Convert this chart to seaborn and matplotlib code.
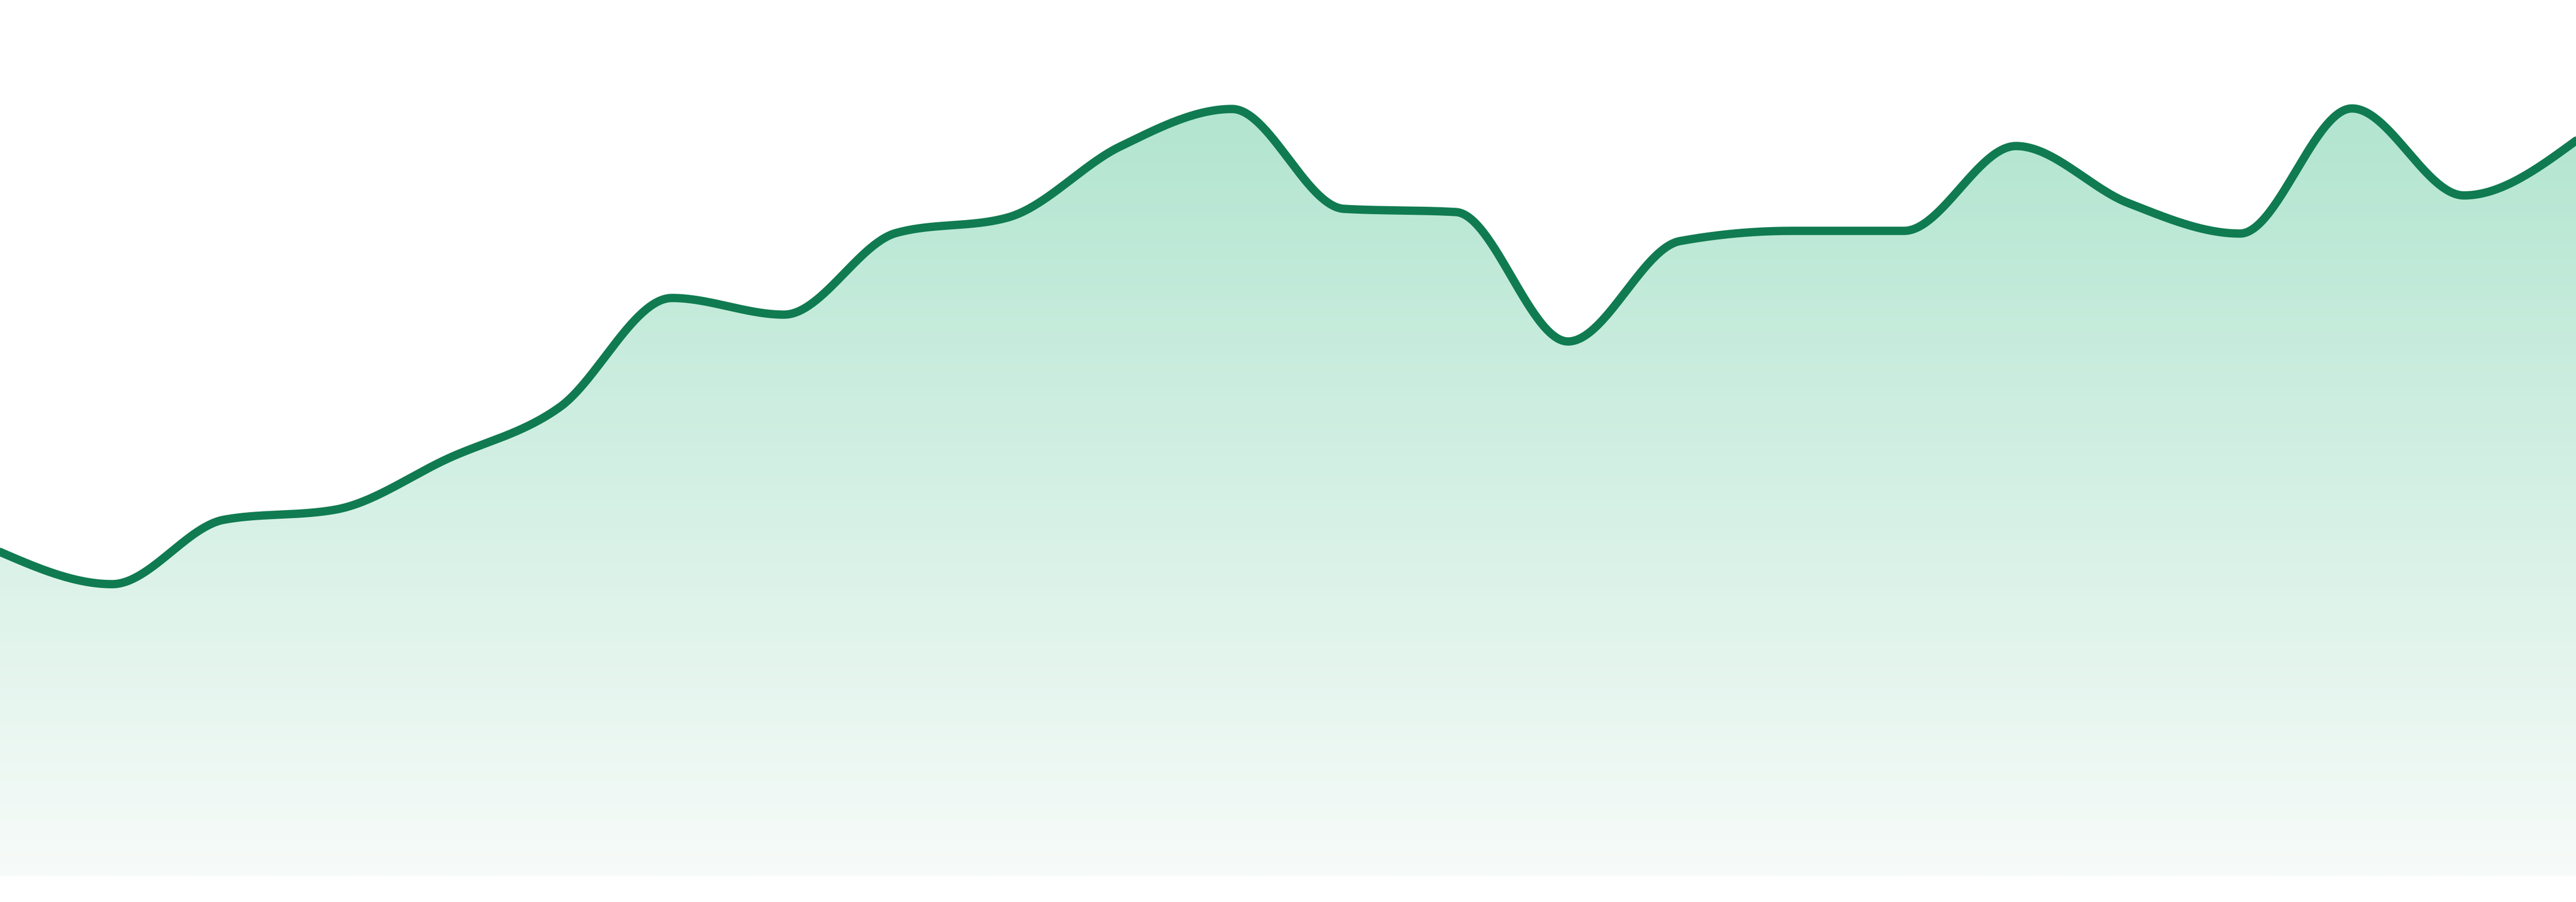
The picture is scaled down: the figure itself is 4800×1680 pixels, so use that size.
import numpy as np
import pandas as pd
import matplotlib
matplotlib.use("Agg")
import matplotlib.pyplot as plt
import seaborn as sns
from matplotlib.colors import LinearSegmentedColormap

# ---- data ----
periods = list(range(24))
values = [60.4, 54.4, 66.4, 68.3, 77.8, 87.4, 107.7, 104.6, 119.8, 122.7,
          135.9, 142.9, 124.3, 123.7, 99.6, 118.3, 120.2, 120.2, 136.0, 125.4,
          119.7, 143.0, 126.8, 137.0]

line_color = "#107b51"
grad_top = "#b2e5d0"
grad_bottom = "#f7fbf9"


def monotone_x(x, y, per_seg=60):
    """d3.curveMonotoneX style interpolation (Steffen)."""
    x = np.asarray(x, float)
    y = np.asarray(y, float)
    n = len(x)
    h = np.diff(x)
    s = np.diff(y) / h
    t = np.zeros(n)
    sgn = lambda v: -1.0 if v < 0 else 1.0
    for i in range(1, n - 1):
        h0, h1, s0, s1 = h[i - 1], h[i], s[i - 1], s[i]
        p = (s0 * h1 + s1 * h0) / (h0 + h1)
        t[i] = (sgn(s0) + sgn(s1)) * min(abs(s0), abs(s1), 0.5 * abs(p))
    t[0] = (3 * s[0] - t[1]) / 2
    t[-1] = (3 * s[-1] - t[-2]) / 2
    xs, ys = [], []
    for i in range(n - 1):
        u = np.linspace(0, 1, per_seg, endpoint=(i == n - 2))
        dx = h[i]
        h00 = 2 * u**3 - 3 * u**2 + 1
        h10 = u**3 - 2 * u**2 + u
        h01 = -2 * u**3 + 3 * u**2
        h11 = u**3 - u**2
        xs.append(x[i] + u * dx)
        ys.append(h00 * y[i] + h10 * dx * t[i] + h01 * y[i + 1] + h11 * dx * t[i + 1])
    return np.concatenate(xs), np.concatenate(ys)


sns.set_theme(style="white")
fig = plt.figure(figsize=(16, 5.6), dpi=300)
ax = fig.add_axes([0, 0, 1, 1])

sx, sy = monotone_x(periods, values)
curve = pd.DataFrame({"x": sx, "y": sy})

# gradient fill under the curve
poly = ax.fill_between(curve["x"], 0, curve["y"], color="none", lw=0)
cmap = LinearSegmentedColormap.from_list("g", [grad_bottom, grad_top])
grad = np.linspace(0, 1, 512).reshape(-1, 1)
img = ax.imshow(grad, cmap=cmap, origin="lower", aspect="auto",
                extent=[periods[0], periods[-1], 0, max(values)], zorder=1,
                interpolation="bicubic")
img.set_clip_path(poly.get_paths()[0], transform=ax.transData)

sns.lineplot(data=curve, x="x", y="y", ax=ax, color=line_color,
             linewidth=3.72, zorder=3, sort=False, estimator=None)

ax.set_xlim(periods[0], periods[-1])
ax.set_ylim(-4.8, 163.2)
ax.set_axis_off()

fig.savefig("out.png", dpi=300, facecolor="white")
